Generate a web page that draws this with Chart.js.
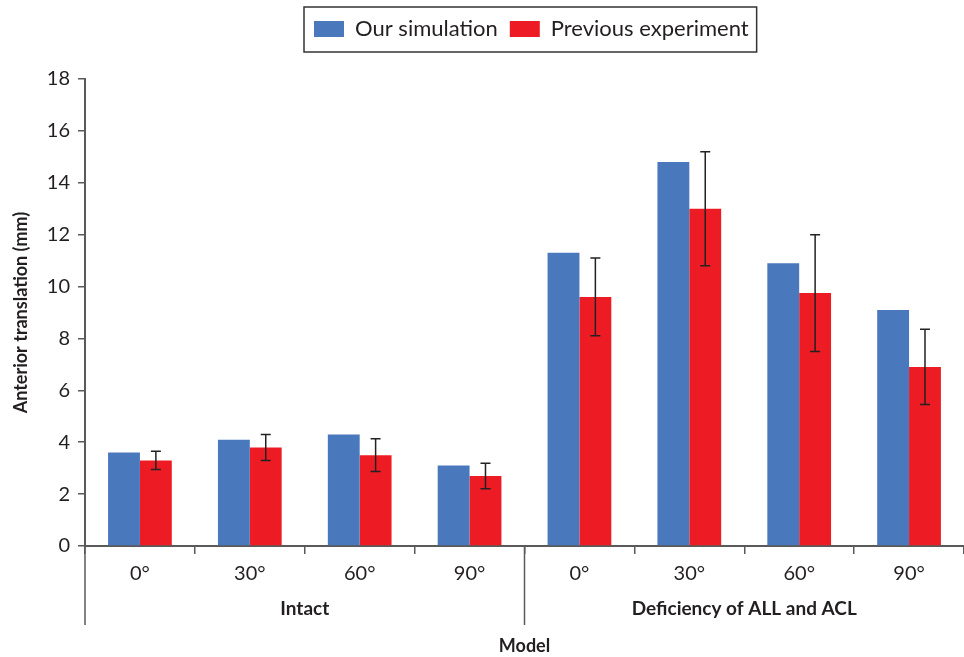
<!DOCTYPE html>
<html>
<head>
<meta charset="utf-8">
<script src="https://cdn.jsdelivr.net/npm/chart.js@4.4.0/dist/chart.umd.min.js"></script>
<style>
  html, body { margin: 0; padding: 0; background: #fff; }
  #wrap { width: 964px; height: 657px; }
</style>
</head>
<body>
<div id="wrap"><canvas id="transChart"></canvas></div>
<script>
// values (mm)
const angles = ["0°", "30°", "60°", "90°", "0°", "30°", "60°", "90°"];
const models = ["Intact", "Deficiency of ALL and ACL"];
const simulation = [3.6, 4.1, 4.3, 3.1, 11.3, 14.8, 10.9, 9.1];
const experiment = [3.3, 3.8, 3.5, 2.7, 9.6, 13.0, 9.75, 6.9];
const experimentErr = [0.35, 0.5, 0.63, 0.49, 1.5, 2.2, 2.25, 1.45];
const yTicks = [0, 2, 4, 6, 8, 10, 12, 14, 16, 18];

const FONT = "Lato, 'Open Sans', sans-serif";
const AXIS = "#5a5a5a";
const TEXT = "#231f20";

// error bars on the experiment series
const errorBars = {
  id: "errorBars",
  afterDatasetsDraw(chart) {
    const ctx = chart.ctx;
    const y = chart.scales.y;
    const meta = chart.getDatasetMeta(1);
    ctx.save();
    ctx.strokeStyle = "#222";
    ctx.lineWidth = 1.5;
    meta.data.forEach(function (bar, i) {
      const v = experiment[i], e = experimentErr[i];
      const top = y.getPixelForValue(v + e);
      const bot = y.getPixelForValue(v - e);
      ctx.beginPath();
      ctx.moveTo(bar.x, top); ctx.lineTo(bar.x, bot);
      ctx.moveTo(bar.x - 5, top); ctx.lineTo(bar.x + 5, top);
      ctx.moveTo(bar.x - 5, bot); ctx.lineTo(bar.x + 5, bot);
      ctx.stroke();
    });
    ctx.restore();
  }
};

// move the legend up to the top of the page, over the plot
const legendPlace = {
  id: "legendPlace",
  afterUpdate(chart) {
    const lg = chart.legend;
    const boxes = lg.legendHitBoxes;
    if (!boxes || !boxes.length) return;
    const first = boxes[0];
    const dx = 314 - first.left;
    const dy = 29 - (first.top + first.height / 2);
    lg.left += dx; lg.right += dx;
    lg.top += dy; lg.bottom += dy;
    boxes.forEach(function (h) { h.left += dx; h.top += dy; });
  }
};

// group labels, long separators and the box round the legend
const decorations = {
  id: "decorations",
  afterDraw(chart) {
    const ctx = chart.ctx;
    const x = chart.scales.x;
    const area = chart.chartArea;
    const lineEnd = 625;
    ctx.save();
    ctx.strokeStyle = AXIS;
    ctx.lineWidth = 1.5;
    const mid = (x.getPixelForValue(3) + x.getPixelForValue(4)) / 2;
    ctx.beginPath();
    ctx.moveTo(area.left, area.bottom); ctx.lineTo(area.left, lineEnd);
    ctx.moveTo(mid, area.bottom); ctx.lineTo(mid, lineEnd);
    ctx.stroke();

    ctx.fillStyle = TEXT;
    ctx.font = "bold 19px " + FONT;
    ctx.textAlign = "center";
    ctx.textBaseline = "middle";
    models.forEach(function (m, g) {
      const c = (x.getPixelForValue(g * 4 + 1) + x.getPixelForValue(g * 4 + 2)) / 2;
      ctx.fillText(m, c, 609);
    });

    const boxes = chart.legend.legendHitBoxes;
    if (boxes && boxes.length) {
      let l = Infinity, r = -Infinity, t = Infinity, b = -Infinity;
      boxes.forEach(function (h) {
        l = Math.min(l, h.left); r = Math.max(r, h.left + h.width);
        t = Math.min(t, h.top); b = Math.max(b, h.top + h.height);
      });
      ctx.strokeStyle = "#333";
      ctx.lineWidth = 1.5;
      ctx.strokeRect(l - 10, t - 11, r - l + 18, b - t + 23);
    }
    ctx.restore();
  }
};

new Chart(document.getElementById("transChart").getContext("2d"), {
  type: "bar",
  data: {
    labels: angles,
    datasets: [
      {
        label: "Our simulation",
        data: simulation,
        backgroundColor: "#4a78bd",
        categoryPercentage: 0.58,
        barPercentage: 1.0
      },
      {
        label: "Previous experiment",
        data: experiment,
        backgroundColor: "#ed1c24",
        categoryPercentage: 0.58,
        barPercentage: 1.0
      }
    ]
  },
  options: {
    responsive: true,
    maintainAspectRatio: false,
    animation: false,
    layout: { padding: { top: 0, right: 0, bottom: 0, left: 0 } },
    plugins: {
      legend: {
        display: true,
        position: "top",
        labels: {
          boxWidth: 30,
          boxHeight: 16,
          padding: 12,
          color: TEXT,
          font: { family: FONT, size: 22 }
        }
      },
      tooltip: { enabled: false }
    },
    scales: {
      x: {
        offset: true,
        grid: {
          display: true,
          offset: true,
          drawOnChartArea: false,
          drawTicks: true,
          tickLength: 8,
          color: AXIS,
          lineWidth: 1.5
        },
        border: { display: true, color: AXIS, width: 2 },
        ticks: { color: TEXT, font: { family: FONT, size: 20 }, padding: 8, maxRotation: 0, autoSkip: false },
        title: {
          display: true,
          text: "Model",
          color: TEXT,
          font: { family: FONT, size: 18, weight: "bold" },
          padding: { top: 0, bottom: 0 }
        },
        afterFit(scale) { scale.height = 111; }
      },
      y: {
        min: 0,
        max: 18,
        afterBuildTicks(scale) { scale.ticks = yTicks.map(v => ({ value: v })); },
        grid: {
          display: true,
          drawOnChartArea: false,
          drawTicks: true,
          tickLength: 7,
          color: AXIS,
          lineWidth: 1.5
        },
        border: { display: true, color: AXIS, width: 2 },
        ticks: { color: TEXT, font: { family: FONT, size: 20 }, padding: 8 },
        title: {
          display: true,
          text: "Anterior translation (mm)",
          color: TEXT,
          font: { family: FONT, size: 18, weight: "bold" },
          padding: { top: 10, bottom: 6 }
        },
        afterFit(scale) { scale.width = 85; scale.paddingTop = 79; }
      }
    }
  },
  plugins: [legendPlace, errorBars, decorations]
});
</script>
</body>
</html>
